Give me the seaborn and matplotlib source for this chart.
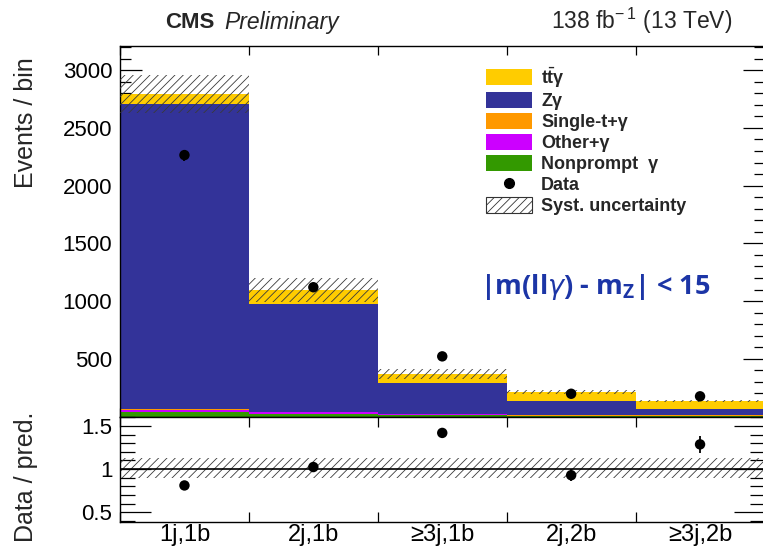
import numpy as np
import matplotlib
matplotlib.use("Agg")
import matplotlib.pyplot as plt
from matplotlib.patches import Patch
from matplotlib.lines import Line2D
from matplotlib.ticker import FixedLocator, MultipleLocator
import seaborn as sns

# Event yields per jet / b-tag category
categories = ["1j,1b", "2j,1b", "≥3j,1b", "2j,2b", "≥3j,2b"]
nonprompt = [38, 25, 10, 3, 2]
other_g = [17, 12, 10, 4, 4]
single_t = [12, 6, 4, 3, 3]
z_gamma = [2641, 929, 265, 120, 58]
tt_gamma = [87, 122, 78, 82, 69]
data = [2265, 1120, 521, 197, 175]
syst_unc = [165, 102, 41, 14, 10]
ratio_band = (0.90, 1.13)

y_ticks = [500, 1000, 1500, 2000, 2500, 3000]
ratio_ticks = [0.5, 1.0, 1.5]
ratio_tick_labels = ["0.5", "1", "1.5"]

sns.set_style("ticks")
plt.rcParams["font.family"] = ["Liberation Sans", "DejaVu Sans"]
plt.rcParams["axes.edgecolor"] = "black"
plt.rcParams["xtick.color"] = "black"
plt.rcParams["ytick.color"] = "black"
plt.rcParams["hatch.linewidth"] = 0.6

W, H = 763, 549
fig = plt.figure(figsize=(W / 100, H / 100), dpi=100)
x0, x1 = 120, 764.5
ax = fig.add_axes([x0 / W, 1 - 416.5 / H, (x1 - x0) / W, (416.5 - 46) / H])
rax = fig.add_axes([x0 / W, 1 - 521.7 / H, (x1 - x0) / W, (521.7 - 416.5) / H], sharex=ax)

pos = np.arange(len(categories))
layers = [
    ("Nonprompt  γ", nonprompt, "#339900"),
    ("Other+γ", other_g, "#cc00ff"),
    ("Single-t+γ", single_t, "#ff9900"),
    ("Zγ", z_gamma, "#333399"),
    ("t$\\bar{\\mathregular{t}}$γ", tt_gamma, "#ffcc00"),
]

# stacked backgrounds
bottom = np.zeros(len(categories))
for name, vals, col in layers:
    sns.barplot(x=pos, y=vals, bottom=bottom.copy(), width=1.0, native_scale=True,
                orient="x", color=col, saturation=1, linewidth=0, errorbar=None,
                ax=ax, zorder=2)
    bottom += np.asarray(vals, dtype=float)
total = bottom

HATCH = "////"
unc = np.asarray(syst_unc, dtype=float)
ax.bar(pos, 2 * unc, bottom=total - unc, width=1.0, facecolor="none",
       edgecolor="#3a3a3a", linewidth=0, hatch=HATCH, zorder=3)

data_arr = np.asarray(data, dtype=float)
ax.errorbar(pos, data_arr, yerr=np.sqrt(data_arr), fmt="none", ecolor="black",
            elinewidth=1.3, zorder=4)
sns.scatterplot(x=pos, y=data_arr, color="black", s=7.5 ** 2, edgecolor="none",
                ax=ax, zorder=5, legend=False)

ax.set_xlim(-0.5, len(categories) - 0.5)
ax.set_ylim(0, 3210)
ax.yaxis.set_major_locator(FixedLocator(y_ticks))
ax.yaxis.set_minor_locator(MultipleLocator(100))
ax.set_xticks(pos)
ax.set_xticklabels(categories)
ax.xaxis.set_minor_locator(FixedLocator(np.arange(len(categories) + 1) - 0.5))
ax.set_xlabel("")
ax.set_ylabel("")
ax.tick_params(axis="y", which="major", direction="in", length=16, width=0.9,
               left=True, right=True, labelsize=16, pad=5.5)
ax.tick_params(axis="y", which="minor", direction="in", length=8, width=0.9,
               left=True, right=True)
ax.tick_params(axis="x", which="major", length=0, labelbottom=False)
ax.tick_params(axis="x", which="minor", direction="in", length=6.5, width=0.9,
               top=True, bottom=True)
for sp in ax.spines.values():
    sp.set_linewidth(1.0)

# ratio panel
ratio = data_arr / total
ratio_err = np.sqrt(data_arr) / total
lo, hi = ratio_band
rax.bar(pos, np.full(len(pos), hi - lo), bottom=lo, width=1.0, facecolor="none",
        edgecolor="#3a3a3a", linewidth=0, hatch=HATCH, zorder=2)
rax.axhline(1.0, color="black", lw=1.2, zorder=3)
rax.errorbar(pos, ratio, yerr=ratio_err, fmt="none", ecolor="black",
             elinewidth=1.3, zorder=4)
sns.scatterplot(x=pos, y=ratio, color="black", s=7.5 ** 2, edgecolor="none",
                ax=rax, zorder=5, legend=False)
rax.set_ylim(0.39, 1.61)
rax.yaxis.set_major_locator(FixedLocator(ratio_ticks))
rax.set_yticklabels(ratio_tick_labels)
rax.yaxis.set_minor_locator(MultipleLocator(0.1))
rax.set_xlabel("")
rax.set_ylabel("")
rax.tick_params(axis="y", which="major", direction="in", length=22, width=0.9,
                left=True, right=True, labelsize=16, pad=5.5)
rax.tick_params(axis="y", which="minor", direction="in", length=11, width=0.9,
                left=True, right=True)
rax.tick_params(axis="x", which="major", length=0, labelbottom=True, labelsize=17, pad=2)
rax.tick_params(axis="x", which="minor", direction="in", length=7.5, width=0.9,
                top=True, bottom=True)
for sp in rax.spines.values():
    sp.set_linewidth(1.0)

# legend
handles = [Patch(facecolor=c, edgecolor="none") for _, _, c in layers[::-1]]
labels = [n for n, _, _ in layers[::-1]]
handles.append(Line2D([0], [0], marker="o", color="black", ls="none", ms=7))
labels.append("Data")
handles.append(Patch(facecolor="white", edgecolor="#333333", hatch=HATCH, lw=0.8))
labels.append("Syst. uncertainty")
ax.legend(handles, labels, loc="upper left", bbox_to_anchor=(486 / W, 1 - 65 / H),
          bbox_transform=fig.transFigure, frameon=False,
          prop={"family": "Liberation Sans", "weight": "bold", "size": 13},
          handlelength=2.55, handleheight=0.98, handletextpad=0.5,
          labelspacing=0.15, borderpad=0, borderaxespad=0)

# selection annotation
fig.text(480 / W, 1 - 287 / H, r"|m(ll$\gamma$) - m$_{\mathregular{Z}}$| < 15",
         color="#1c35a6", family="Open Sans", weight="bold", size=19.5,
         ha="left", va="center")

# header
fig.text(165 / W, 1 - 28.5 / H, "CMS", weight="bold", size=16, va="baseline")
fig.text(224 / W, 1 - 28.5 / H, "Preliminary", style="italic", size=16.5, va="baseline")
fig.text(732 / W, 1 - 28.5 / H, r"138 fb$^{\mathregular{-\,1}}$ (13 TeV)", size=16.5,
         ha="right", va="baseline")

# axis titles
fig.text(26 / W, 1 - 123 / H, "Events / bin", rotation=90, size=18, ha="center", va="center")
fig.text(26 / W, 1 - 477 / H, "Data / pred.", rotation=90, size=18, ha="center", va="center")

fig.savefig("out.png", dpi=100)
